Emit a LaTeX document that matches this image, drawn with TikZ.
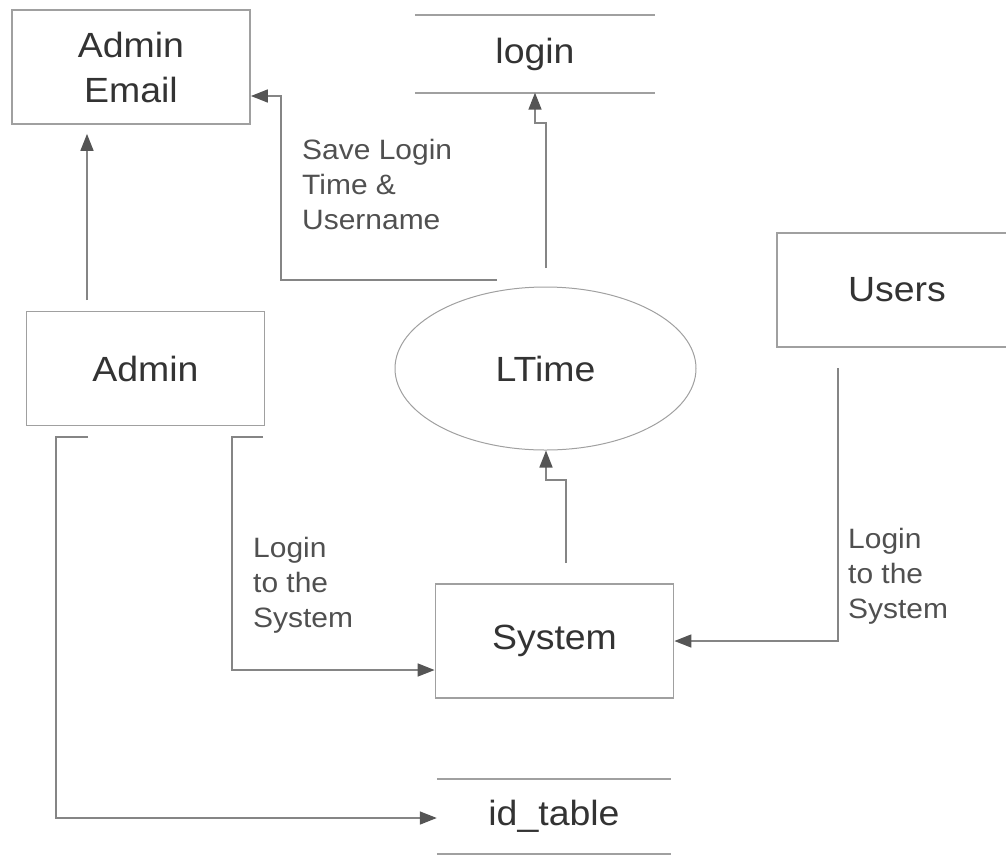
\documentclass[tikz,border=0pt]{standalone}
\usepackage{fontspec}
\setmainfont{Liberation Sans}[FakeStretch=1.07]
\usetikzlibrary{arrows.meta,shapes.geometric}
\definecolor{boxline}{HTML}{A0A0A0}
\definecolor{flow}{HTML}{858585}
\definecolor{tipc}{HTML}{555555}
\definecolor{txt}{HTML}{333333}
\definecolor{lbl}{HTML}{505050}
\begin{document}
\begin{tikzpicture}[x=1pt,y=-1pt,
  entity/.style={draw=boxline,line width=1.8pt,minimum width=238pt,minimum height=114pt,inner sep=0pt,
    font=\fontsize{35}{45}\selectfont,text=txt,align=center},
  store/.style={minimum width=238pt,minimum height=77pt,inner sep=0pt,
    font=\fontsize{35}{45}\selectfont,text=txt},
  storeline/.style={draw=boxline,line width=1.8pt},
  proc/.style={ellipse,draw=boxline,line width=1pt,minimum width=301pt,minimum height=163pt,inner sep=0pt,
    font=\fontsize{35}{45}\selectfont,text=txt},
  flowline/.style={draw=flow,line width=1.6pt,
    -{Triangle[length=17pt,width=13pt,color=tipc,fill=tipc]}},
  lab/.style={font=\fontsize{28}{35}\selectfont,text=lbl,align=left,anchor=north west,inner sep=0pt}
]
\useasboundingbox (0,0) rectangle (1006,855);

% nodes
\node[entity] (ae) at (131,67) {Admin\\Email};
\node[entity] (admin) at (145.5,368.5) {Admin};
\node[entity] (sys) at (554.5,641) {System};
\node[entity,minimum width=240pt] (users) at (897,290) {Users};
\node[proc] (lt) at (545.5,368.5) {LTime};
\node[store,minimum width=240pt] (login) at (535,54) {login};
\node[store,minimum width=234pt,minimum height=75pt] (idt) at (554,816.5) {id\_table};

\draw[storeline] (login.north west) -- (login.north east);
\draw[storeline] (login.south west) -- (login.south east);
\draw[storeline] (idt.north west) -- (idt.north east);
\draw[storeline] (idt.south west) -- (idt.south east);

% free ends of the connectors
\coordinate (a1) at (87,300);
\coordinate (s1) at (497,280);
\coordinate (s2) at (281,96);
\coordinate (l1) at (546,268);
\coordinate (l2) at (546,123);
\coordinate (l3) at (535,123);
\coordinate (y1) at (566,563);
\coordinate (y2) at (566,480);
\coordinate (y3) at (546,480);
\coordinate (e1) at (263,437);
\coordinate (e2) at (232,437);
\coordinate (e3) at (232,670);
\coordinate (f1) at (88,437);
\coordinate (f2) at (56,437);
\coordinate (f3) at (56,818);
\coordinate (u1) at (838,368);
\coordinate (u2) at (838,641);

% connectors
\draw[flowline,shorten >=9pt] (a1) -- (a1 |- ae.south);
\draw[flowline] (s1) -| (s2) -- (s2 -| ae.east);
\draw[flowline] (l1) -- (l2) -- (l3) -- (l3 |- login.south);
\draw[flowline] (y1) -- (y2) -- (y3) -- (y3 |- lt.south);
\draw[flowline] (e1) -- (e2) -- (e3) -- (e3 -| sys.west);
\draw[flowline] (f1) -- (f2) -- (f3) -- (f3 -| idt.west);
\draw[flowline] (u1) -- (u2) -- (u2 -| sys.east);

% labels
\node[lab] (t1) at (302,139) {Save Login\\Time \&\\Username};
\node[lab] (t2) at (253,537) {Login\\to the\\System};
\node[lab] (t3) at (848,528) {Login\\to the\\System};
\end{tikzpicture}
\end{document}
